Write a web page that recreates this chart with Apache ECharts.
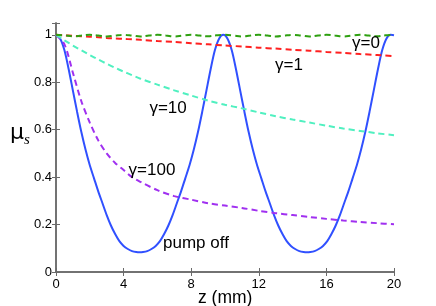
<!DOCTYPE html>
<html><head><meta charset="utf-8">
<script src="https://cdn.jsdelivr.net/npm/echarts@6/dist/echarts.min.js"></script>
<style>html,body{margin:0;padding:0;background:#fff}#c{width:436px;height:306px}</style>
</head><body><div id="c"></div>
<script>
// ---- data ----
var xTicks = [0, 4, 8, 12, 16, 20];
var yTicks = [0, 0.2, 0.4, 0.6, 0.8, 1];
var pumpOffZ = [0,0.25,0.5,0.75,1,1.25,1.5,1.75,2,2.25,2.5,2.75,3,3.25,3.5,3.75,4,4.25,4.5,4.75,4.95,
  5.15,5.4,5.65,5.9,6.15,6.4,6.65,6.9,7.15,7.4,7.65,7.9,8.15,8.4,8.65,8.9,9.15,9.4,9.65,9.9,
  10.15,10.4,10.65,10.9,11.15,11.4,11.65,11.9,12.15,12.4,12.65,12.9,13.15,13.4,13.65,13.9,14.15,14.4,14.65,14.85,
  15.05,15.3,15.55,15.8,16.05,16.3,16.55,16.8,17.05,17.3,17.55,17.8,18.05,18.3,18.55,18.8,19.05,19.3,19.55,19.8,20];
var pumpOffMu = [1,0.984,0.935,0.855,0.765,0.675,0.59,0.515,0.45,0.395,0.34,0.29,0.24,0.196,0.16,0.13,0.11,0.097,0.088,0.084,0.083,
  0.084,0.088,0.097,0.11,0.13,0.16,0.196,0.24,0.29,0.34,0.395,0.45,0.515,0.59,0.675,0.765,0.855,0.935,0.984,1,
  0.984,0.935,0.855,0.765,0.675,0.59,0.515,0.45,0.395,0.34,0.29,0.24,0.196,0.16,0.13,0.11,0.097,0.088,0.084,0.083,
  0.084,0.088,0.097,0.11,0.13,0.16,0.196,0.24,0.29,0.34,0.395,0.45,0.515,0.59,0.675,0.765,0.855,0.935,0.984,1,0.998];
var gammaZ = [0,0.5,1,1.5,2,2.5,3,3.5,4,4.5,5,6,7,8,9,10,11,12,13,14,15,16,17,18,19,20];
var gamma100Mu = [1,0.96,0.84,0.72,0.63,0.555,0.5,0.46,0.43,0.40,0.38,0.345,0.32,0.305,0.29,0.28,0.27,0.258,0.248,0.24,0.232,0.224,0.217,0.211,0.206,0.201];
var gamma10Mu = [1,0.977,0.955,0.935,0.915,0.896,0.878,0.861,0.845,0.83,0.815,0.79,0.766,0.744,0.723,0.705,0.69,0.673,0.657,0.643,0.63,0.617,0.605,0.595,0.585,0.577];
var gamma1Mu = [1,0.998,0.996,0.994,0.992,0.99,0.987,0.985,0.983,0.981,0.979,0.974,0.97,0.965,0.96,0.955,0.951,0.946,0.942,0.937,0.933,0.928,0.924,0.919,0.915,0.91];
var gamma0Z = [0,0.5,1,1.5,2,2.5,3,3.5,4,4.5,5,5.5,6,6.5,7,7.5,8,8.5,9,9.5,10,10.5,11,11.5,12,12.5,13,13.5,14,14.5,15,15.5,16,16.5,17,17.5,18,18.5,19,19.5,20];
var gamma0Mu = [1,0.998,0.994,0.997,1,0.997,0.993,0.997,1,0.997,0.993,0.997,1,0.997,0.993,0.997,1,0.997,0.994,0.998,1,0.997,0.993,0.997,1,0.997,0.993,0.997,1,0.997,0.993,0.997,1,0.997,0.993,0.997,1,0.997,0.994,0.998,1];
var annotText = ['\u03b3=0', '\u03b3=1', '\u03b3=10', '\u03b3=100', 'pump off'];
var annotZ = [18.34, 13.79, 6.63, 5.68, 8.28];
var annotMu = [0.966, 0.873, 0.692, 0.43, 0.122];

function zip(a, b) { return a.map(function (v, i) { return [v, b[i]]; }); }

var chart = echarts.init(document.getElementById('c'), null, {renderer: 'canvas'});
var frame = {show: true, lineStyle: {color: '#6a6a6a', width: 1.5}};
var tick = {show: true, inside: true, length: 4, lineStyle: {color: '#6a6a6a', width: 1}};
var lblFont = {color: '#000', fontSize: 13, fontFamily: 'Liberation Sans, Arial, sans-serif'};
function dash(c) { return {color: c, width: 2, type: [6, 4]}; }

chart.setOption({
  animation: false,
  backgroundColor: '#fff',
  grid: {left: 56, right: 42, top: 23, bottom: 34, containLabel: false},
  xAxis: [
    {type: 'value', min: 0, max: 20, interval: 4, axisLine: frame, axisTick: tick, splitLine: {show: false},
     axisLabel: Object.assign({margin: 6, formatter: function (v) { return xTicks.indexOf(v) >= 0 ? String(v) : ''; }}, lblFont)},
    {type: 'value', position: 'top', min: 0, max: 20, interval: 4, axisLine: frame, axisTick: tick, splitLine: {show: false}, axisLabel: {show: false}}
  ],
  yAxis: [
    {type: 'value', min: 0, max: 1.05, interval: 0.2, axisLine: frame, axisTick: tick, splitLine: {show: false},
     axisLabel: Object.assign({margin: 4, formatter: function (v) {
       for (var i = 0; i < yTicks.length; i++) if (Math.abs(yTicks[i] - v) < 1e-6) return String(yTicks[i]);
       return ''; }}, lblFont)},
    {type: 'value', position: 'right', min: 0, max: 1.05, interval: 0.2, axisLine: frame, axisTick: tick, splitLine: {show: false}, axisLabel: {show: false}}
  ],
  series: [
    {type: 'line', name: 'pump off', data: zip(pumpOffZ, pumpOffMu), smooth: 0.3, showSymbol: false, lineStyle: {color: '#3050ff', width: 2}},
    {type: 'line', name: 'g100', data: zip(gammaZ, gamma100Mu), smooth: 0.3, showSymbol: false, lineStyle: dash('#a030f0')},
    {type: 'line', name: 'g10', data: zip(gammaZ, gamma10Mu), smooth: 0.3, showSymbol: false, lineStyle: dash('#50f0c0')},
    {type: 'line', name: 'g1', data: zip(gammaZ, gamma1Mu), smooth: 0.3, showSymbol: false, lineStyle: dash('#ff2020')},
    {type: 'line', name: 'g0', data: zip(gamma0Z, gamma0Mu), smooth: 0.4, showSymbol: false, lineStyle: dash('#2ea010')},
    {type: 'scatter', name: 'labels', symbolSize: 1, itemStyle: {color: 'rgba(0,0,0,0)'}, silent: true, z: 10,
     data: annotZ.map(function (z, i) { return {value: [z, annotMu[i]], name: annotText[i]}; }),
     label: {show: true, position: 'inside', formatter: function (p) { return p.name; }, opacity: 1,
             textBorderWidth: 0, color: '#000', fontSize: 17, fontFamily: 'Liberation Sans, Arial, sans-serif'}}
  ],
  graphic: [
    {type: 'text', left: 10, top: 122, style: {text: '{m|\u03bc}{s|s}', rich: {
      m: {fontSize: 22, fontFamily: 'DejaVu Sans, sans-serif', fill: '#000'},
      s: {fontSize: 15, fontStyle: 'italic', fontFamily: 'Liberation Serif, serif', fill: '#000', padding: [14, 0, 0, 0]}}}},
    {type: 'text', left: 198, top: 289, style: {text: 'z (mm)', fontSize: 17.5, fontFamily: 'Liberation Sans, Arial, sans-serif', fill: '#000'}}
  ]
});
</script></body></html>
